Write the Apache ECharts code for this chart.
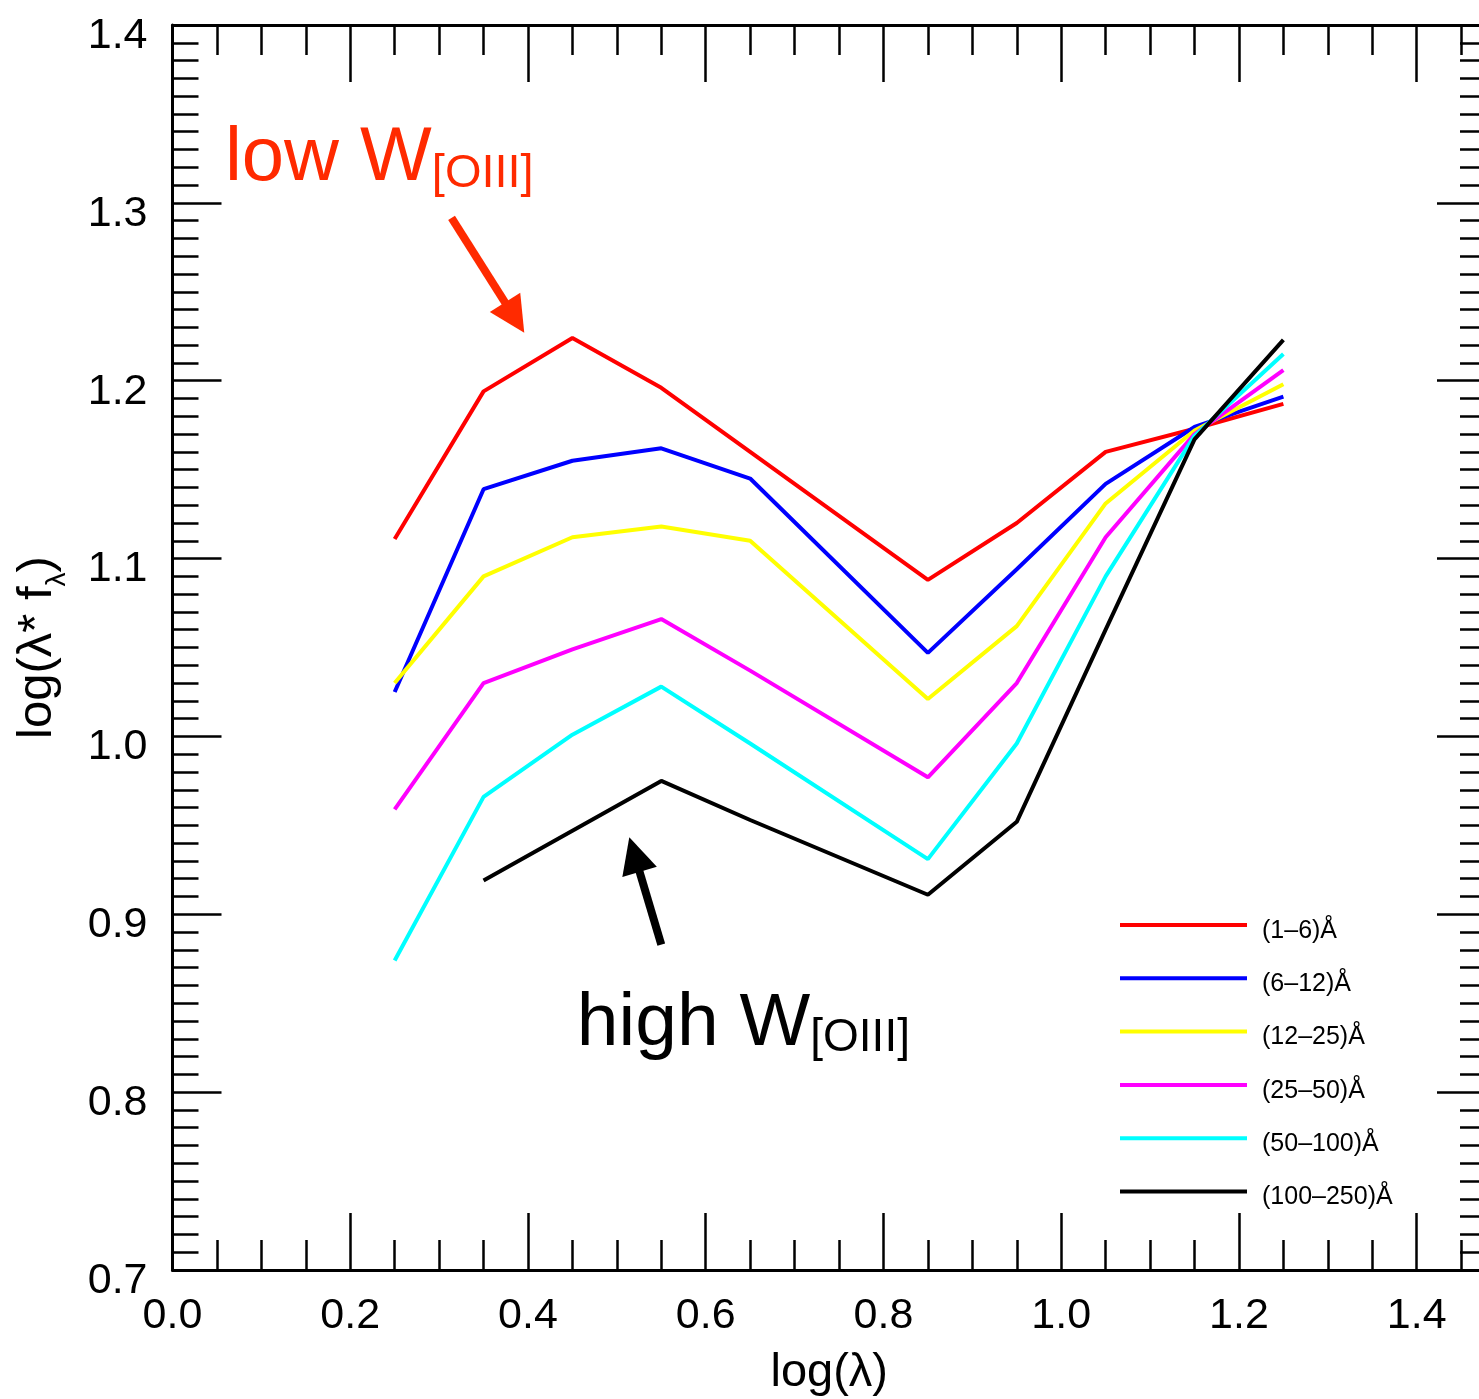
<!DOCTYPE html>
<html>
<head>
<meta charset="utf-8">
<title>log(lambda f_lambda) by W[OIII] bin</title>
<script src="https://cdn.jsdelivr.net/npm/echarts@6/dist/echarts.min.js"></script>
<style>
  html, body { margin: 0; padding: 0; background: #fff; overflow: hidden; }
  #chart { width: 1479px; height: 1399px; }
</style>
</head>
<body>
<div id="chart"></div>
<script>
// x positions, log(lambda)
const logLam = [0.25, 0.35, 0.45, 0.55, 0.65, 0.85, 0.95, 1.05, 1.15, 1.25];

// log(lambda * f_lambda) for each W[OIII] bin
const w1to6    = [1.111, 1.194, 1.224, 1.196, 1.160, 1.088, 1.120, 1.160, 1.173, 1.187];
const w6to12   = [1.025, 1.139, 1.155, 1.162, 1.145, 1.047, 1.094, 1.142, 1.174, 1.191];
const w12to25  = [1.030, 1.090, 1.112, 1.118, 1.110, 1.021, 1.062, 1.131, 1.172, 1.198];
const w25to50  = [0.959, 1.030, 1.049, 1.066, 1.037, 0.977, 1.030, 1.112, 1.170, 1.206];
const w50to100 = [0.874, 0.966, 1.001, 1.028, 0.996, 0.931, 0.996, 1.090, 1.169, 1.215];
const w100to250 = [null, 0.919, 0.947, 0.975, 0.953, 0.911, 0.952, 1.060, 1.167, 1.223];

const binNames = ['(1–6)Å', '(6–12)Å', '(12–25)Å', '(25–50)Å', '(50–100)Å', '(100–250)Å'];
const binValues = [w1to6, w6to12, w12to25, w25to50, w50to100, w100to250];
const binColors = ['#ff0000', '#0000ff', '#ffff00', '#ff00ff', '#00ffff', '#000000'];

// axis ranges / ticks (the right edge of the original frame is cropped off)
const xMin = 0, xMax = 1.478, xStep = 0.2;
const yMin = 0.7, yMax = 1.4, yStep = 0.1;

// annotations (data coords)
const lowArrow = [[0.314, 1.2916], [0.385, 1.2355]];
const lowLabelAt = [0.059, 1.3247];
const highArrow = [[0.550, 0.883], [0.5198, 0.9336]];
const highLabelAt = [0.455, 0.8384];

const FONT = '"Liberation Sans", Arial, Helvetica, sans-serif';
const annoRed = '#ff2a00';

const chart = echarts.init(document.getElementById('chart'));

function pairs(vals) {
  const out = [];
  vals.forEach((v, i) => {
    if (v !== null) out.push([logLam[i], v]);
  });
  return out;
}

function xAxisOpt(pos, showLabel) {
  return {
    type: 'value',
    position: pos,
    min: xMin,
    max: xMax,
    interval: xStep,
    axisLine: { show: true, onZero: false, lineStyle: { color: '#000', width: 3 } },
    axisTick: { show: true, inside: true, length: 57, lineStyle: { color: '#000', width: 2.5 } },
    minorTick: { show: true, splitNumber: 4, length: 30, lineStyle: { color: '#000', width: 2.5 } },
    splitLine: { show: false },
    axisLabel: {
      show: showLabel,
      showMaxLabel: false,
      margin: 25,
      fontSize: 43,
      color: '#000',
      fontFamily: FONT,
      formatter: v => v.toFixed(1)
    }
  };
}

function yAxisOpt(pos, showLabel) {
  return {
    type: 'value',
    position: pos,
    min: yMin,
    max: yMax,
    interval: yStep,
    axisLine: { show: true, onZero: false, lineStyle: { color: '#000', width: 3 } },
    axisTick: { show: true, inside: true, length: 49, lineStyle: { color: '#000', width: 2.5 } },
    minorTick: { show: true, splitNumber: 10, length: 26, lineStyle: { color: '#000', width: 2.5 } },
    splitLine: { show: false },
    axisLabel: {
      show: showLabel,
      margin: 25,
      fontSize: 43,
      lineHeight: 22,
      verticalAlign: 'top',
      color: '#000',
      fontFamily: FONT,
      formatter: v => v.toFixed(1)
    }
  };
}

const xBottom = xAxisOpt('bottom', true);
xBottom.name = 'log(λ)';
xBottom.nameLocation = 'middle';
xBottom.nameGap = 80;
xBottom.nameTextStyle = { fontSize: 47, color: '#000', fontFamily: FONT };

const yLeft = yAxisOpt('left', true);
yLeft.name = '{m|log(λ* f}{s|λ}{m|)}';
yLeft.nameLocation = 'middle';
yLeft.nameGap = 101;
yLeft.nameTextStyle = {
  color: '#000',
  fontFamily: FONT,
  rich: {
    m: { fontSize: 49, lineHeight: 69, fontFamily: FONT, color: '#000' },
    s: { fontSize: 28, lineHeight: 28, verticalAlign: 'bottom', fontFamily: FONT, color: '#000' }
  }
};

const series = binNames.map((name, i) => ({
  name: name,
  type: 'line',
  data: pairs(binValues[i]),
  symbol: 'none',
  lineStyle: { color: binColors[i], width: 4 },
  itemStyle: { color: binColors[i] },
  silent: true,
  z: 3
}));

function arrowLine(coords, color) {
  return {
    silent: true,
    symbol: ['none', 'triangle'],
    symbolSize: 36,
    label: { show: false },
    lineStyle: { color: color, width: 8, type: 'solid' },
    emphasis: { disabled: true },
    data: [[{ coord: coords[0] }, { coord: coords[1] }]]
  };
}

function textMark(at, text, color, big, small, lh) {
  return {
    silent: true,
    symbol: 'circle',
    symbolSize: 0,
    itemStyle: { color: 'transparent' },
    label: {
      show: true,
      position: 'inside',
      align: 'left',
      verticalAlign: 'middle',
      formatter: text,
      rich: {
        a: { fontSize: big, lineHeight: lh, color: color, fontFamily: FONT },
        b: { fontSize: small, lineHeight: small, verticalAlign: 'bottom', color: color, fontFamily: FONT }
      }
    },
    data: [{ coord: at }]
  };
}

series[0].markLine = arrowLine(lowArrow, annoRed);
series[0].markPoint = textMark(lowLabelAt, '{a|low W}{b|[OIII]}', annoRed, 76, 47, 77);
series[5].markLine = arrowLine(highArrow, '#000');
series[5].markPoint = textMark(highLabelAt, '{a|high W}{b|[OIII]}', '#000', 75, 46, 75);

chart.setOption({
  animation: false,
  backgroundColor: '#fff',
  textStyle: { fontFamily: FONT },
  grid: {
    left: 172.5, right: -7, top: 25, bottom: 129,
    containLabel: false,
    outerBoundsMode: 'none'
  },
  legend: {
    orient: 'vertical',
    left: 1120,
    top: 906.5,
    padding: 0,
    itemGap: 16.3,
    itemWidth: 127,
    itemHeight: 4,
    icon: 'rect',
    selectedMode: false,
    data: binNames,
    formatter: name => '{t|' + name + '}',
    textStyle: {
      fontSize: 25,
      color: '#000',
      fontFamily: FONT,
      padding: [0, 0, 0, 10],
      rich: {
        t: { fontSize: 25, lineHeight: 25, padding: [12, 0, 0, 0], color: '#000', fontFamily: FONT }
      }
    }
  },
  xAxis: [xBottom, xAxisOpt('top', false)],
  yAxis: [yLeft, yAxisOpt('right', false)],
  series: series
});
</script>
</body>
</html>
